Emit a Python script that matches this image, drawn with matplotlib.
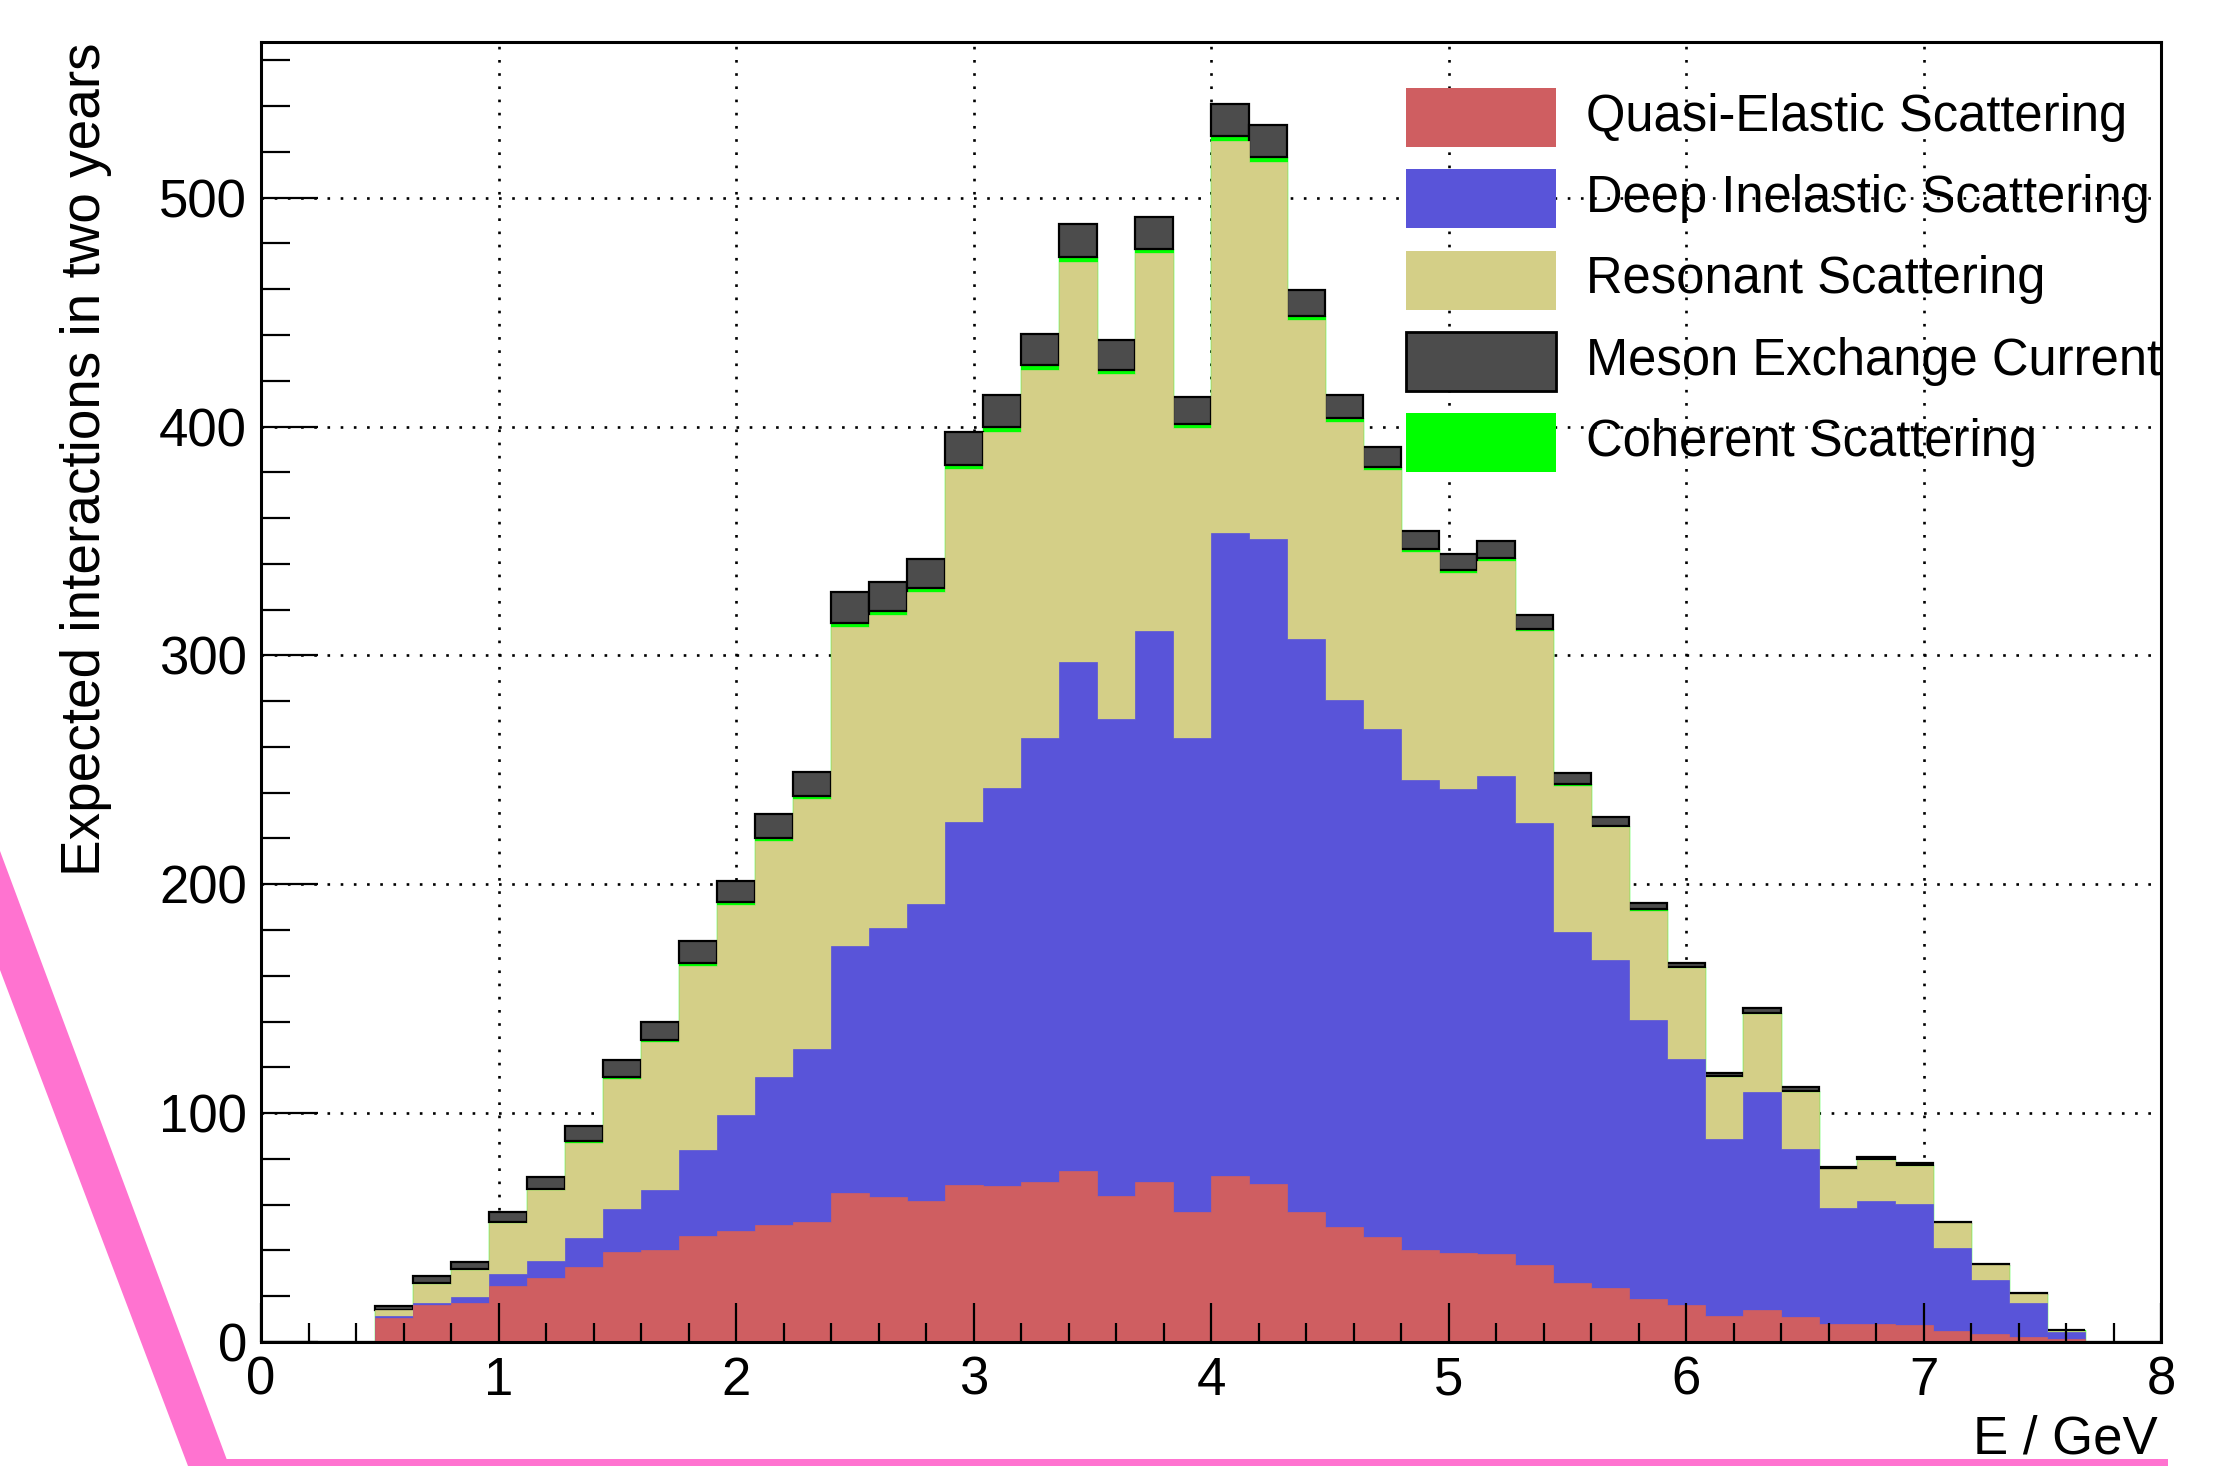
import numpy as np
import matplotlib
matplotlib.use('Agg')
import matplotlib.pyplot as plt
from matplotlib.patches import Rectangle, Polygon
from matplotlib.ticker import MultipleLocator

plt.rcParams['font.family'] = ['Liberation Sans', 'DejaVu Sans']

# 50 energy bins between 0 and 8 GeV
e_min, e_max, n_bins = 0.0, 8.0, 50

# expected interactions per bin and channel
qe = [0, 0, 0, 10.6, 16.2, 16.9, 24.6, 27.8, 32.9, 39.2, 40.2, 46.5, 48.5, 51.3, 52.4,
      64.9, 63.5, 61.4, 68.4, 68.2, 69.8, 74.6, 63.9, 70.0, 56.6, 72.5, 68.9, 56.6, 50.1,
      46.0, 40.4, 38.9, 38.3, 33.7, 25.7, 23.4, 19.0, 16.3, 11.4, 14.0, 11.1, 7.7, 7.7,
      7.4, 4.9, 3.4, 2.3, 1.5, 0, 0]
dis = [0, 0, 0, 0.7, 0.7, 2.6, 5.1, 7.8, 12.5, 19.0, 26.3, 37.5, 50.5, 64.4, 75.8,
       108.1, 117.4, 129.9, 158.7, 173.8, 194.2, 222.7, 208.2, 240.7, 207.5, 280.8, 281.8,
       250.5, 230.3, 221.8, 205.2, 202.6, 208.8, 193.1, 153.3, 143.3, 121.8, 107.2, 77.1,
       95.2, 73.3, 50.8, 54.0, 53.0, 36.1, 23.7, 14.6, 2.7, 0, 0]
res = [0, 0, 0, 2.7, 8.5, 12.0, 22.2, 30.6, 41.5, 56.7, 64.6, 80.3, 92.0, 103.0, 108.9,
       139.2, 136.7, 136.3, 154.3, 155.7, 160.8, 174.7, 150.8, 164.9, 135.4, 171.4, 165.0,
       139.3, 121.6, 113.2, 99.5, 94.5, 94.2, 83.7, 64.0, 58.1, 47.6, 39.9, 27.3, 34.1,
       25.0, 17.0, 17.8, 16.7, 10.9, 6.5, 4.1, 0.8, 0, 0]
coh = [0, 0, 0, 0.2, 0.3, 0.3, 0.5, 0.6, 0.8, 1.0, 1.0, 1.2, 1.3, 1.4, 1.5,
       1.8, 1.8, 1.8, 2.0, 2.0, 2.0, 2.1, 1.9, 2.1, 1.8, 2.2, 2.1, 1.8, 1.6,
       1.5, 1.3, 1.3, 1.3, 1.2, 0.9, 0.8, 0.7, 0.6, 0.4, 0.5, 0.4, 0.3, 0.3,
       0.3, 0.2, 0.1, 0.1, 0.05, 0, 0]
mec = [0, 0, 0, 1.5, 3.2, 3.1, 4.6, 5.5, 6.5, 7.5, 7.7, 9.5, 9.2, 10.5, 10.5,
       13.6, 12.8, 12.9, 14.1, 14.1, 13.8, 14.5, 12.9, 13.8, 11.5, 14.0, 14.1, 11.6, 10.3,
       8.7, 8.1, 7.0, 7.5, 6.1, 4.7, 3.9, 2.5, 1.8, 1.5, 2.0, 1.6, 0.8, 1.1,
       0.8, 0.5, 0.4, 0.2, 0.15, 0, 0]

labels = ['Quasi-Elastic Scattering', 'Deep Inelastic Scattering', 'Resonant Scattering',
          'Meson Exchange Current', 'Coherent Scattering']
colors = ['#cf5e61', '#5954d9', '#d4cf87', '#4c4c4c', '#00ff00']

edges = np.linspace(e_min, e_max, n_bins + 1)
centers = 0.5 * (edges[:-1] + edges[1:])
width = edges[1] - edges[0]

# cumulative stack: QE, DIS, RES, COH, MEC on top
c1 = np.array(qe)
c2 = c1 + np.array(dis)
c3 = c2 + np.array(res)
c4 = c3 + np.array(coh)
c5 = c4 + np.array(mec)

W, H = 2214, 1466
fig = plt.figure(figsize=(W / 100, H / 100), dpi=100)
ax = fig.add_axes([261 / W, 124 / H, 1900 / W, 1300 / H])

# dotted grid below the histograms
for xv in range(1, 8):
    ax.axvline(xv, color='black', lw=1.9, ls=(0, (1, 4)), zorder=0.5)
for yv in range(100, 600, 100):
    ax.axhline(yv, color='black', lw=1.9, ls=(0, (1, 4)), zorder=0.5)

# drawn from the top of the stack downwards, like a ROOT THStack
ax.stairs(c4, edges, baseline=0, fill=True, facecolor=colors[4],
          edgecolor=colors[4], linewidth=1.0, zorder=1.0)
ax.bar(centers, mec, width=width, bottom=c4, color=colors[3],
       edgecolor='black', linewidth=1.6, zorder=1.1)
ax.stairs(c3, edges, baseline=0, fill=True, facecolor=colors[2],
          edgecolor=colors[2], linewidth=0.5, zorder=1.2)
ax.stairs(c2, edges, baseline=0, fill=True, facecolor=colors[1],
          edgecolor=colors[1], linewidth=0.5, zorder=1.3)
ax.stairs(c1, edges, baseline=0, fill=True, facecolor=colors[0],
          edgecolor=colors[0], linewidth=0.5, zorder=1.4)

ax.set_xlim(e_min, e_max)
ax.set_ylim(0, 568)

ax.xaxis.set_major_locator(MultipleLocator(1))
ax.xaxis.set_minor_locator(MultipleLocator(0.2))
ax.yaxis.set_major_locator(MultipleLocator(100))
ax.yaxis.set_minor_locator(MultipleLocator(20))
ax.tick_params(axis='both', which='both', direction='in', width=1.6,
               top=False, right=False, labelsize=38, pad=10)
ax.tick_params(axis='y', which='major', length=41)
ax.tick_params(axis='y', which='minor', length=21)
ax.tick_params(axis='x', which='major', length=28)
ax.tick_params(axis='x', which='minor', length=14)
for sp in ax.spines.values():
    sp.set_linewidth(2.2)

ax.set_xlabel('E / GeV', fontsize=38, loc='right')
ax.xaxis.set_label_coords(0.998, -0.0854)
ax.xaxis.label.set_va('baseline')
ax.set_ylabel('Expected interactions in two years', fontsize=39.5, loc='top')
ax.yaxis.set_label_coords(-0.0847, 1.0)
ax.yaxis.label.set_va('baseline')

# legend: transparent, no frame, grid shows through
row_y = [117.5, 198.5, 280, 361, 442.5]
for k, yc in enumerate(row_y):
    edge = 'black' if k == 3 else 'none'
    fig.add_artist(Rectangle((1406 / W, 1 - (yc + 29.5) / H), 150 / W, 59 / H,
                             transform=fig.transFigure, facecolor=colors[k],
                             edgecolor=edge, linewidth=2.0, zorder=5))
    fig.text(1586 / W, 1 - yc / H, labels[k], fontsize=36.5, ha='left',
             va='center', zorder=6)

# pink border strokes around the lower left corner of the canvas
pts = [(0, 851), (226.6, 1459), (2168, 1459), (2168, 1466), (188, 1466), (0, 970)]
fig.add_artist(Polygon([(px / W, 1 - py / H) for px, py in pts], closed=True,
                       transform=fig.transFigure, facecolor='#ff73d0',
                       edgecolor='none', zorder=10))

fig.savefig('out.png', dpi=100)
